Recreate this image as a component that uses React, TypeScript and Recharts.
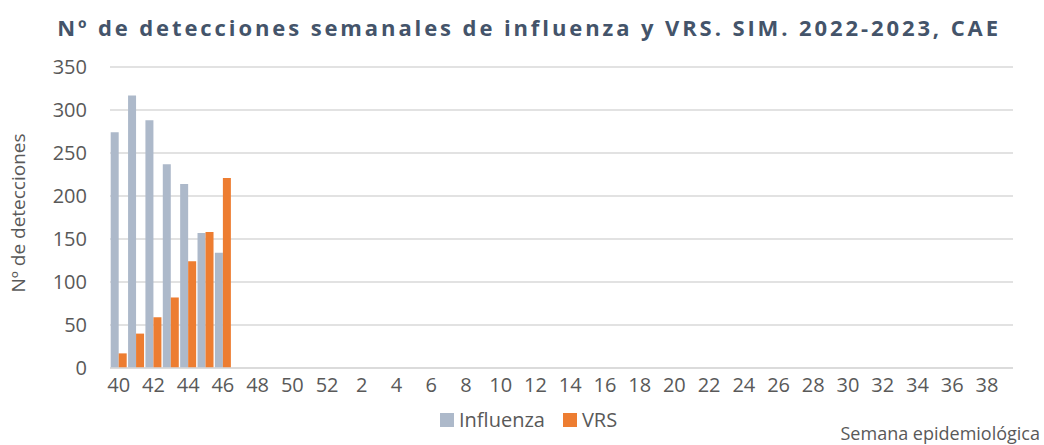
import React from "react";
import { BarChart, Bar, XAxis, YAxis, CartesianGrid } from "recharts";

const weeks: string[] = [
  "40", "41", "42", "43", "44", "45", "46", "47", "48", "49", "50", "51", "52",
  "1", "2", "3", "4", "5", "6", "7", "8", "9", "10", "11", "12", "13", "14",
  "15", "16", "17", "18", "19", "20", "21", "22", "23", "24", "25", "26", "27",
  "28", "29", "30", "31", "32", "33", "34", "35", "36", "37", "38", "39",
];
const influenza: (number | null)[] = [274, 317, 288, 237, 214, 157, 134];
const vrs: (number | null)[] = [17, 40, 59, 82, 124, 158, 221];
const yTicks: number[] = [0, 50, 100, 150, 200, 250, 300, 350];

const seriesNames: string[] = ["Influenza", "VRS"];
const seriesColors: string[] = ["#ADB9CA", "#ED7D31"];

const title = "Nº de detecciones semanales de influenza y VRS. SIM. 2022-2023, CAE";
const yLabel = "Nº de detecciones";
const xLabel = "Semana epidemiológica";

const data = weeks.map((w, i) => ({
  week: w,
  Influenza: i < influenza.length ? influenza[i] : null,
  VRS: i < vrs.length ? vrs[i] : null,
}));

const FONT = "'Open Sans', sans-serif";

export default function App() {
  return (
    <div style={{ position: "absolute", left: 0, top: 0, width: 1044, height: 445, background: "#fff", fontFamily: FONT, overflow: "hidden" }}>
      <BarChart
        width={1044}
        height={445}
        data={data}
        margin={{ top: 67, right: 31, left: 40, bottom: 37 }}
        barGap={0}
        barCategoryGap="4%"
      >
        <CartesianGrid vertical={false} stroke="#D9D9D9" strokeWidth={1.5} />
        <XAxis
          dataKey="week"
          interval={1}
          tickLine={false}
          axisLine={{ stroke: "#D9D9D9", strokeWidth: 1.5 }}
          tick={{ fill: "#595959", fontSize: 20, fontFamily: FONT }}
          tickMargin={4}
          height={40}
        />
        <YAxis
          domain={[0, 350]}
          ticks={yTicks}
          tickLine={false}
          axisLine={false}
          width={70}
          tick={{ fill: "#595959", fontSize: 20, fontFamily: FONT }}
          tickMargin={17}
        />
        <Bar dataKey="Influenza" fill={seriesColors[0]} isAnimationActive={false} />
        <Bar dataKey="VRS" fill={seriesColors[1]} isAnimationActive={false} />
      </BarChart>
      <div
        style={{
          position: "absolute",
          top: 12,
          left: 529 - 600,
          width: 1200,
          textAlign: "center",
          fontSize: 22,
          fontWeight: 700,
          letterSpacing: 2.9,
          color: "#44546A",
          whiteSpace: "nowrap",
        }}
      >
        {title}
      </div>
      <div
        style={{
          position: "absolute",
          left: 18,
          top: 213,
          transform: "translate(-50%, -50%) rotate(-90deg)",
          fontSize: 19,
          color: "#595959",
          whiteSpace: "nowrap",
        }}
      >
        {yLabel}
      </div>
      <div
        style={{
          position: "absolute",
          left: 440,
          top: 406,
          display: "flex",
          alignItems: "center",
          fontSize: 20,
          color: "#595959",
          whiteSpace: "nowrap",
        }}
      >
        {seriesNames.map((n, i) => (
          <div key={n} style={{ display: "flex", alignItems: "center", marginRight: 18 }}>
            <span style={{ display: "inline-block", width: 14, height: 14, background: seriesColors[i], marginRight: 5 }} />
            <span>{n}</span>
          </div>
        ))}
      </div>
      <div
        style={{
          position: "absolute",
          right: 4,
          top: 421,
          fontSize: 18,
          color: "#595959",
          whiteSpace: "nowrap",
        }}
      >
        {xLabel}
      </div>
    </div>
  );
}
